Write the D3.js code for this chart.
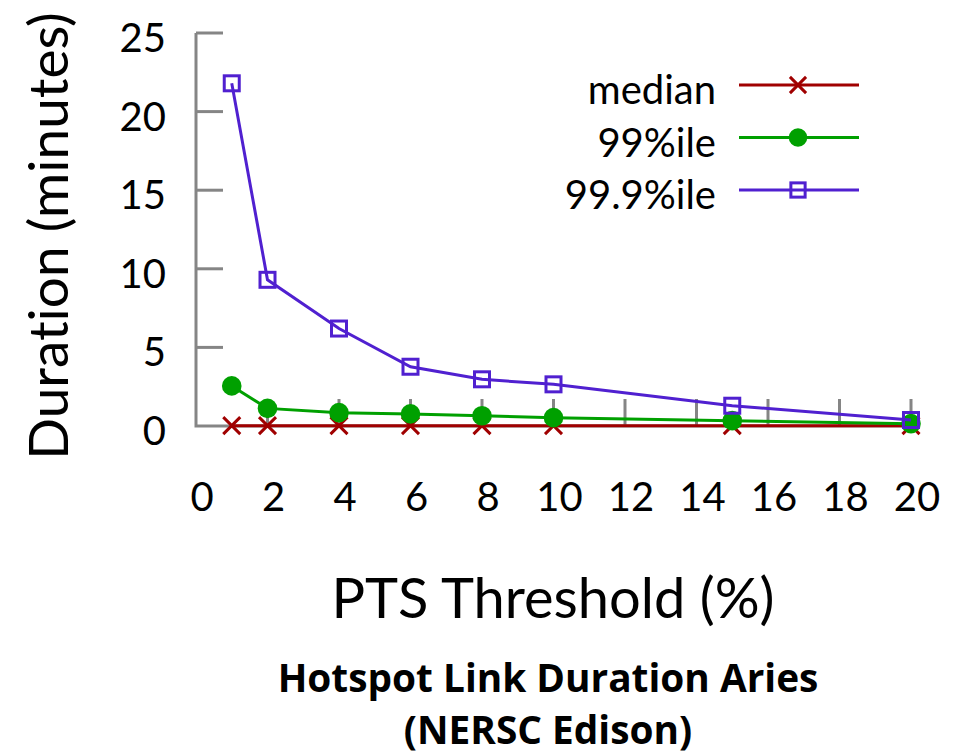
<!DOCTYPE html>
<html>
<head>
<meta charset="utf-8">
<script src="https://cdn.jsdelivr.net/npm/d3@7"></script>
<style>
  html, body { margin: 0; padding: 0; background: #fff; }
  svg { display: block; }
  text { font-variant-ligatures: none; }
  .tick-label { font-family: Lato, "Open Sans", sans-serif; fill: #000; }
</style>
</head>
<body>
<svg id="chart" width="960" height="756"></svg>
<script>
// PTS threshold (%) on the x axis
const thresholds = [1, 2, 4, 6, 8, 10, 15, 20];
// Hotspot link durations in minutes
const medianValues = [0.02, 0.02, 0.02, 0.02, 0.02, 0.02, 0.02, 0.02];
const p99Values = [2.55, 1.12, 0.85, 0.77, 0.65, 0.53, 0.34, 0.15];
const p999Values = [21.8, 9.3, 6.2, 3.77, 2.97, 2.65, 1.29, 0.38];

const xTicks = [0, 2, 4, 6, 8, 10, 12, 14, 16, 18, 20];
const yTicks = [0, 5, 10, 15, 20, 25];

const seriesNames = ["median", "99%ile", "99.9%ile"];
const seriesColors = ["#a00000", "#00a000", "#5020d0"];
const seriesMarkers = ["cross", "circle", "square"];
const seriesValues = [medianValues, p99Values, p999Values];

const svg = d3.select("#chart");
const axisColor = "#858585";
const tickLen = 27;

const x = d3.scaleLinear().domain([0, 20]).range([196, 911]);
const y = d3.scaleLinear().domain([0, 25]).range([426, 33]);

// inward tick marks
const g = svg.append("g");
g.selectAll("line.ytick").data(yTicks.filter(d => d > 0)).join("line")
  .attr("x1", x(0)).attr("x2", x(0) + tickLen)
  .attr("y1", d => y(d)).attr("y2", d => y(d))
  .attr("stroke", axisColor).attr("stroke-width", 3);
g.selectAll("line.xtick").data(xTicks.filter(d => d > 0)).join("line")
  .attr("x1", d => x(d)).attr("x2", d => x(d))
  .attr("y1", y(0)).attr("y2", y(0) - tickLen)
  .attr("stroke", axisColor).attr("stroke-width", 3);

// axis lines
g.append("path")
  .attr("d", `M${x(0)},${y(25)}V${y(0)}H${x(20)}`)
  .attr("fill", "none").attr("stroke", axisColor).attr("stroke-width", 3);

// tick labels
svg.selectAll("text.ylab").data(yTicks).join("text")
  .attr("class", "tick-label")
  .attr("x", 166).attr("y", d => y(d) + 4)
  .attr("text-anchor", "end").attr("dominant-baseline", "central")
  .attr("font-size", 40)
  .text(d => d);
svg.selectAll("text.xlab").data(xTicks).join("text")
  .attr("class", "tick-label")
  .attr("x", d => x(d) + 6).attr("y", 496)
  .attr("text-anchor", "middle").attr("dominant-baseline", "central")
  .attr("font-size", 40)
  .text(d => d);

// axis titles
svg.append("text")
  .attr("class", "tick-label")
  .attr("x", 553).attr("y", 618)
  .attr("text-anchor", "middle")
  .attr("font-size", 56)
  .text("PTS Threshold (%)");
svg.append("text")
  .attr("class", "tick-label")
  .attr("transform", "translate(68,236) rotate(-90)")
  .attr("text-anchor", "middle")
  .attr("font-size", 55)
  .text("Duration (minutes)");

// chart caption
const caption = ["Hotspot Link Duration Aries", "(NERSC Edison)"];
svg.selectAll("text.caption").data(caption).join("text")
  .attr("x", 548).attr("y", (d, i) => 692 + i * 52)
  .attr("text-anchor", "middle")
  .attr("font-family", "'Open Sans', 'Noto Sans', sans-serif")
  .attr("font-weight", "bold")
  .attr("font-size", 38.8)
  .text(d => d);

function drawMarker(sel, type, color, s) {
  if (type === "cross") {
    const c = 8.5 * s;
    sel.append("path").attr("d", `M${-c},${-c}L${c},${c}M${-c},${c}L${c},${-c}`)
      .attr("stroke", color).attr("stroke-width", 3).attr("fill", "none");
  } else if (type === "circle") {
    sel.append("circle").attr("r", 9.8 * s).attr("fill", color);
  } else {
    const h = 7.5 * s;
    sel.append("rect").attr("x", -h).attr("y", -h).attr("width", 2 * h).attr("height", 2 * h)
      .attr("fill", "none").attr("stroke", color).attr("stroke-width", 3);
  }
}

const line = d3.line().x(d => x(d[0])).y(d => y(d[1]));

seriesNames.forEach((name, si) => {
  const pts = thresholds.map((t, i) => [t, seriesValues[si][i]]);
  const sg = svg.append("g");
  sg.append("path").datum(pts).attr("d", line)
    .attr("fill", "none").attr("stroke", seriesColors[si]).attr("stroke-width", 3);
  sg.selectAll("g.pt").data(pts).join("g")
    .attr("transform", d => `translate(${x(d[0])},${y(d[1])})`)
    .each(function () { drawMarker(d3.select(this), seriesMarkers[si], seriesColors[si], 1); });

  // legend entry
  const ly = 85 + si * 52.5;
  const lg = svg.append("g");
  lg.append("text").attr("class", "tick-label")
    .attr("x", 716).attr("y", ly + 4)
    .attr("text-anchor", "end").attr("dominant-baseline", "central")
    .attr("font-size", 40).text(name);
  lg.append("line").attr("x1", 739).attr("x2", 859).attr("y1", ly).attr("y2", ly)
    .attr("stroke", seriesColors[si]).attr("stroke-width", 3);
  const m = lg.append("g").attr("transform", `translate(798,${ly})`);
  drawMarker(m, seriesMarkers[si], seriesColors[si], 0.95);
});
</script>
</body>
</html>
